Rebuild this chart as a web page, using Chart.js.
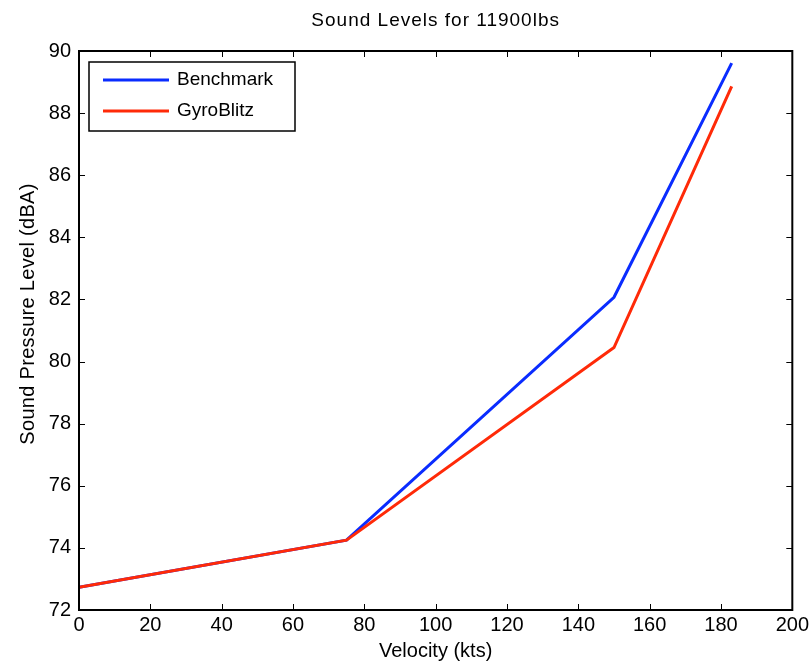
<!DOCTYPE html>
<html>
<head>
<meta charset="utf-8">
<script src="https://cdn.jsdelivr.net/npm/chart.js@4.4.1/dist/chart.umd.min.js"></script>
<style>
  html, body { margin: 0; padding: 0; background: #ffffff; }
  #wrap { width: 812px; height: 664px; }
</style>
</head>
<body>
<div id="wrap"><canvas id="c" width="812" height="664"></canvas></div>
<script>
// ---- data ----
const chartTitle = 'Sound Levels for 11900lbs';
const xTitle = 'Velocity (kts)';
const yTitle = 'Sound Pressure Level (dBA)';
const seriesNames = ['Benchmark', 'GyroBlitz'];
const velocity = [0, 75, 150, 183];
const benchmark = [72.73, 74.25, 82.07, 89.61];
const gyroBlitz = [72.73, 74.25, 80.45, 88.86];
const xTicks = [0, 20, 40, 60, 80, 100, 120, 140, 160, 180, 200];
const yTicks = [72, 74, 76, 78, 80, 82, 84, 86, 88, 90];

const FONT = "'Liberation Sans', Arial, Helvetica, sans-serif";
const colors = ['#0a2cff', '#ff2a08'];

const toPoints = ys => velocity.map((x, i) => ({ x: x, y: ys[i] }));

const framePlugin = {
  id: 'frame',
  afterDatasetsDraw(chart) {
    const ctx = chart.ctx;
    const a = chart.chartArea;
    const xs = chart.scales.x, ys = chart.scales.y;
    ctx.save();
    ctx.strokeStyle = '#000';
    ctx.lineWidth = 1;
    const tl = 6;
    xs.ticks.forEach(t => {
      const px = Math.round(xs.getPixelForValue(t.value)) + 0.5;
      if (px <= a.left + 1 || px >= a.right - 1) return;
      ctx.beginPath();
      ctx.moveTo(px, a.bottom); ctx.lineTo(px, a.bottom - tl);
      ctx.moveTo(px, a.top); ctx.lineTo(px, a.top + tl);
      ctx.stroke();
    });
    ys.ticks.forEach(t => {
      const py = Math.round(ys.getPixelForValue(t.value)) + 0.5;
      if (py <= a.top + 1 || py >= a.bottom - 1) return;
      ctx.beginPath();
      ctx.moveTo(a.left, py); ctx.lineTo(a.left + tl, py);
      ctx.moveTo(a.right, py); ctx.lineTo(a.right - tl, py);
      ctx.stroke();
    });
    ctx.lineWidth = 2;
    ctx.strokeRect(a.left, a.top, a.right - a.left, a.bottom - a.top);

    // legend box
    const lx = a.left + 10, ly = a.top + 11, lw = 206, lh = 69;
    ctx.fillStyle = '#fff';
    ctx.fillRect(lx, ly, lw, lh);
    ctx.lineWidth = 1.5;
    ctx.strokeRect(lx, ly, lw, lh);
    ctx.font = '19px ' + FONT;
    ctx.textBaseline = 'middle';
    ctx.textAlign = 'left';
    chart.data.datasets.forEach((ds, i) => {
      const yy = ly + 18 + i * 31;
      ctx.strokeStyle = ds.borderColor;
      ctx.lineWidth = 3;
      ctx.beginPath();
      ctx.moveTo(lx + 14, yy); ctx.lineTo(lx + 80, yy);
      ctx.stroke();
      ctx.fillStyle = '#000';
      ctx.fillText(ds.label, lx + 88, yy);
    });

    // chart title centred over plot area
    ctx.fillStyle = '#000';
    ctx.font = '19px ' + FONT;
    ctx.textAlign = 'center';
    ctx.textBaseline = 'middle';
    if ('letterSpacing' in ctx) ctx.letterSpacing = '1px';
    ctx.fillText(chartTitle, (a.left + a.right) / 2, 21);
    if ('letterSpacing' in ctx) ctx.letterSpacing = '0px';

    // y axis title
    ctx.save();
    ctx.translate(28, 314);
    ctx.rotate(-Math.PI / 2);
    ctx.font = '20px ' + FONT;
    if ('letterSpacing' in ctx) ctx.letterSpacing = '0.3px';
    ctx.fillText(yTitle, 0, 0);
    ctx.restore();
    ctx.restore();
  }
};

new Chart(document.getElementById('c'), {
  type: 'line',
  data: {
    datasets: [
      { label: seriesNames[0], data: toPoints(benchmark), borderColor: colors[0], backgroundColor: colors[0],
        borderWidth: 3, pointRadius: 0, tension: 0, order: 2 },
      { label: seriesNames[1], data: toPoints(gyroBlitz), borderColor: colors[1], backgroundColor: colors[1],
        borderWidth: 3, pointRadius: 0, tension: 0, order: 1 }
    ]
  },
  options: {
    responsive: false,
    animation: false,
    devicePixelRatio: 1,
    layout: { padding: { left: 0, right: 18, top: 51, bottom: 0 } },
    plugins: {
      legend: { display: false },
      tooltip: { enabled: false },
      title: { display: false }
    },
    scales: {
      x: {
        type: 'linear', min: 0, max: 200,
        afterBuildTicks: s => { s.ticks = xTicks.map(v => ({ value: v })); },
        afterFit: s => { s.height = 54; },
        grid: { display: false, drawTicks: false },
        border: { display: false },
        ticks: { padding: 3, color: '#000', font: { family: FONT, size: 20 }, maxRotation: 0, autoSkip: false },
        title: { display: true, text: xTitle, color: '#000', font: { family: FONT, size: 20 }, padding: { top: 0, bottom: 1 } }
      },
      y: {
        type: 'linear', min: 72, max: 90,
        afterBuildTicks: s => { s.ticks = yTicks.map(v => ({ value: v })); },
        afterFit: s => { s.width = 79; },
        grid: { display: false, drawTicks: false },
        border: { display: false },
        ticks: { padding: 8, color: '#000', font: { family: FONT, size: 20 }, autoSkip: false },
        title: { display: false, text: yTitle }
      }
    }
  },
  plugins: [framePlugin]
});
</script>
</body>
</html>
